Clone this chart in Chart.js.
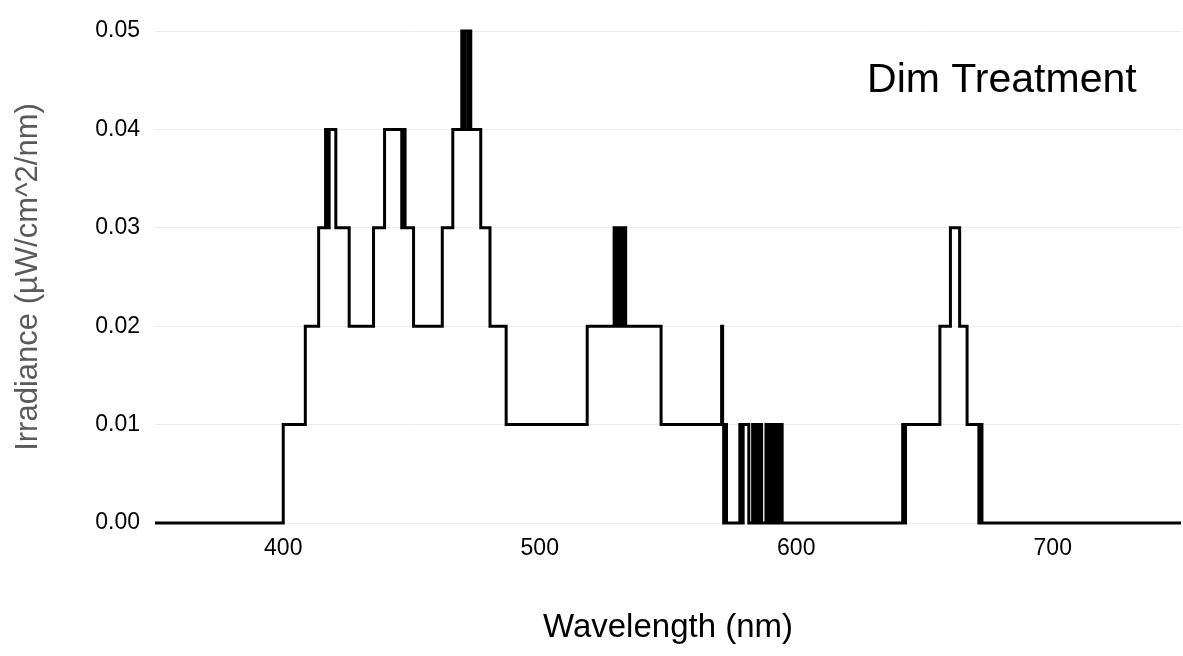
<!DOCTYPE html>
<html>
<head>
<meta charset="utf-8">
<title>Dim Treatment spectrum</title>
<script src="https://cdn.jsdelivr.net/npm/chart.js@4.4.1/dist/chart.umd.min.js"></script>
<style>
  html, body { margin: 0; padding: 0; background: #fff; }
  #wrap { width: 1183px; height: 656px; }
</style>
</head>
<body>
<div id="wrap"><canvas id="spectrumChart" width="1183" height="656"></canvas></div>
<script>
  // step start wavelength (nm) -> irradiance held until the next step
  const wavelengths = [
    350, 400, 408.6, 413.8, 416.5, 417.3, 417.9, 420.5, 425.7,
    435.2, 439.5, 446.2, 446.8, 447.5, 450.8,
    462, 466.1, 469.6, 470.3, 470.8, 472, 472.5, 473.1, 477, 480.6, 486.9,
    518.5, 529, 529.5, 530, 530.5, 531, 531.5, 532, 532.5, 533, 533.5, 534, 547.3,
    570.9, 571.3, 571.7, 572.2, 572.8,
    578, 578.6, 579.3, 581.5, 583, 584, 584.7, 585.4, 586, 586.5,
    588.2, 588.8, 589.4, 590, 590.6, 591.2, 591.8, 592.4, 593, 593.6, 594.1, 594.5,
    641.5, 642, 642.6, 656, 660.1, 663.7, 666.6, 671.2, 671.7, 672.4, 750
  ];
  const irradiance = [
    0, 0.01, 0.02, 0.03, 0.04, 0.03, 0.04, 0.03, 0.02,
    0.03, 0.04, 0.03, 0.04, 0.03, 0.02,
    0.03, 0.04, 0.05, 0.04, 0.05, 0.04, 0.05, 0.04, 0.03, 0.02, 0.01,
    0.02, 0.03, 0.02, 0.03, 0.02, 0.03, 0.02, 0.03, 0.02, 0.03, 0.02, 0.02, 0.01,
    0.02, 0.01, 0, 0.01, 0,
    0.01, 0, 0.01, 0, 0.01, 0, 0.01, 0, 0.01, 0,
    0.01, 0, 0.01, 0, 0.01, 0, 0.01, 0, 0.01, 0, 0.01, 0,
    0.01, 0, 0.01, 0.02, 0.03, 0.02, 0.01, 0, 0.01, 0, 0
  ];
  const xTicks = [400, 500, 600, 700];
  const yTicks = [0, 0.01, 0.02, 0.03, 0.04, 0.05];
  const panelLabel = 'Dim Treatment';
  const xTitle = 'Wavelength (nm)';
  const yTitle = 'Irradiance (\u00b5W/cm^2/nm)';

  const fontFamily = '"Liberation Sans", Arial, Helvetica, sans-serif';

  const panelLabelPlugin = {
    id: 'panelLabel',
    afterDraw(chart) {
      const { ctx, scales } = chart;
      ctx.save();
      ctx.font = `41px ${fontFamily}`;
      ctx.fillStyle = '#000';
      ctx.textAlign = 'right';
      ctx.textBaseline = 'alphabetic';
      ctx.fillText(panelLabel, scales.x.getPixelForValue(732.7), scales.y.getPixelForValue(0.0438));
      ctx.restore();
    }
  };

  new Chart(document.getElementById('spectrumChart'), {
    type: 'line',
    data: {
      datasets: [{
        data: wavelengths.map((w, i) => ({ x: w, y: irradiance[i] })),
        // previous value is held up to the next wavelength, then steps
        stepped: 'before',
        borderColor: '#000',
        borderWidth: 3,
        borderJoinStyle: 'miter',
        pointRadius: 0,
        fill: false,
        clip: false
      }]
    },
    options: {
      responsive: false,
      animation: false,
      devicePixelRatio: 1,
      layout: { padding: { top: 31, right: 2, bottom: 0, left: 0 } },
      plugins: { legend: { display: false }, tooltip: { enabled: false } },
      scales: {
        x: {
          type: 'linear',
          min: 350,
          max: 750,
          afterBuildTicks: (scale) => { scale.ticks = xTicks.map((v) => ({ value: v })); },
          afterFit: (scale) => { scale.height = 133; },
          grid: { display: false, drawTicks: false },
          border: { display: false },
          ticks: {
            padding: 12,
            color: '#000',
            font: { family: fontFamily, size: 23 },
            callback: (v) => String(v)
          },
          title: {
            display: true,
            text: xTitle,
            color: '#000',
            font: { family: fontFamily, size: 33 },
            padding: { top: 0, bottom: 8 }
          }
        },
        y: {
          type: 'linear',
          min: 0,
          max: 0.05,
          afterBuildTicks: (scale) => { scale.ticks = yTicks.map((v) => ({ value: v })); },
          afterFit: (scale) => { scale.width = 155; },
          grid: { color: '#ebebeb', lineWidth: 1, drawTicks: false },
          border: { display: false },
          ticks: {
            padding: 15,
            color: '#000',
            font: { family: fontFamily, size: 23 },
            callback: (v) => Number(v).toFixed(2)
          },
          title: {
            display: true,
            text: yTitle,
            color: '#5a5a5a',
            font: { family: fontFamily, size: 31 },
            padding: { top: 10, bottom: 0 }
          }
        }
      }
    },
    plugins: [panelLabelPlugin]
  });
</script>
</body>
</html>
